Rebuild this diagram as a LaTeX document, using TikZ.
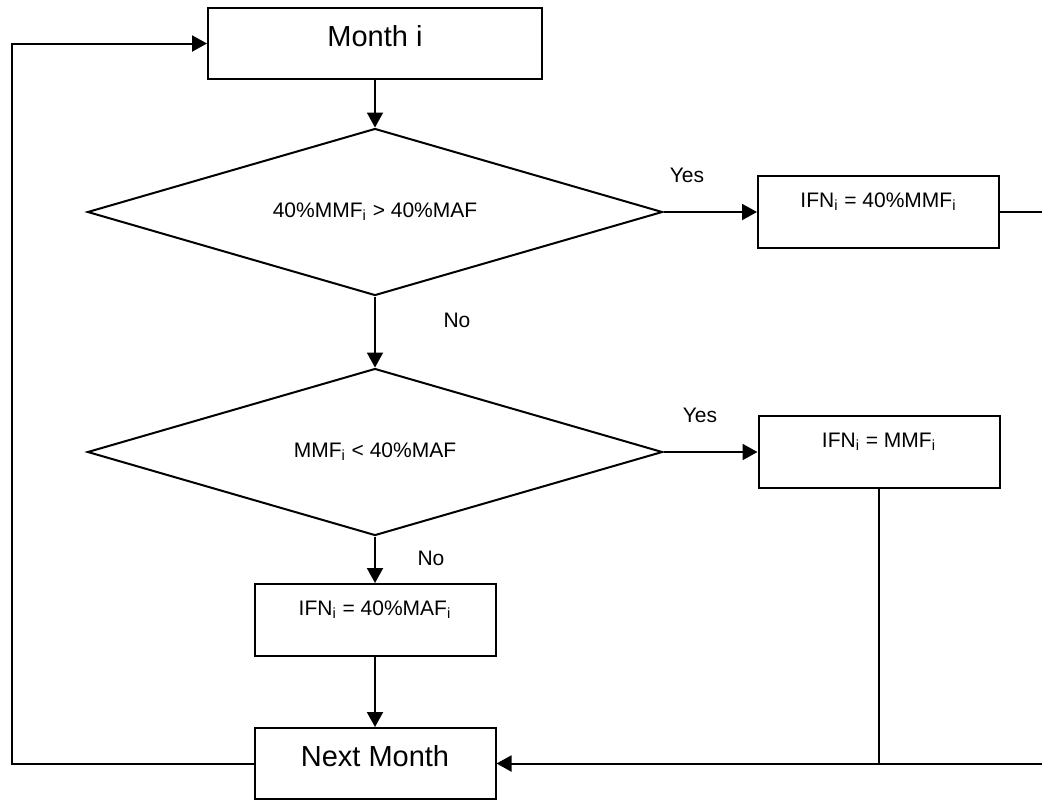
\documentclass[tikz,border=0pt]{standalone}
\usepackage{fontspec}
\setmainfont{Liberation Sans}
\usetikzlibrary{shapes.geometric,arrows.meta}
\tikzset{
  arr/.style={-{Triangle[length=7.5pt,width=8pt]}},
  bigbox/.style={draw,line width=1pt,inner sep=0pt,minimum width=167pt,minimum height=35.5pt,
    font=\fontsize{14.5}{16}\selectfont,text height=10.5pt,text depth=7.3pt},
  box/.style={draw,line width=1pt,inner sep=0pt,minimum width=120.5pt,minimum height=36pt,
    font=\fontsize{10.5}{12}\selectfont,text height=7.5pt,text depth=12pt},
  decision/.style={diamond,draw,line width=1pt,inner sep=0pt,shape aspect=3.4,
    minimum width=287.5pt,minimum height=83.5pt,font=\fontsize{10.5}{12}\selectfont},
  lbl/.style={font=\fontsize{10.5}{12}\selectfont,inner sep=0pt}
}
\begin{document}
\begin{tikzpicture}[x=0.5pt,y=-0.5pt,line width=1pt]
    \useasboundingbox (0,0) rectangle (1042,800);
    % blocchi
    \node[bigbox] (month) at (375,43.5) {Month i};
    \node[decision] (d1) at (375,212) {40\%MMF\textsubscript{i} > 40\%MAF};
    \node[box] (ifn1) at (878.5,212) {IFN\textsubscript{i} = 40\%MMF\textsubscript{i}};
    \node[decision] (d2) at (375,452) {MMF\textsubscript{i} < 40\%MAF};
    \node[box] (ifn2) at (879,452) {IFN\textsubscript{i} = MMF\textsubscript{i}};
    \node[box] (ifn3) at (375,620) {IFN\textsubscript{i} = 40\%MAF\textsubscript{i}};
    \node[bigbox,minimum width=120.5pt] (next) at (375,763.5) {Next Month};
    % etichette
    \node[lbl] (yes1) at (687,175) {Yes};
    \node[lbl] (yes2) at (700,415) {Yes};
    \node[lbl] (no1) at (457,320) {No};
    \node[lbl] (no2) at (431,558) {No};
    % bordi
    \coordinate (lft) at (12,0);
    \coordinate (rgt) at (1042,0);
    \draw[arr] (month) -- (d1);
    \draw[arr] (d1) -- (ifn1);
    \draw (ifn1.east) -- (ifn1.east -| rgt);
    \draw[arr] (d1) -- (d2);
    \draw[arr] (d2) -- (ifn2);
    \draw[arr] (d2) -- (ifn3);
    \draw[arr] (ifn3) -- (next);
    \draw (ifn2.south) -- (ifn2.south |- next.east);
    \draw[arr] (next.east -| rgt) -- (next.east);
    \draw[arr] (next.west) -- (next.west -| lft) -- (month.west -| lft) -- (month.west);
  \end{tikzpicture}
\end{document}
